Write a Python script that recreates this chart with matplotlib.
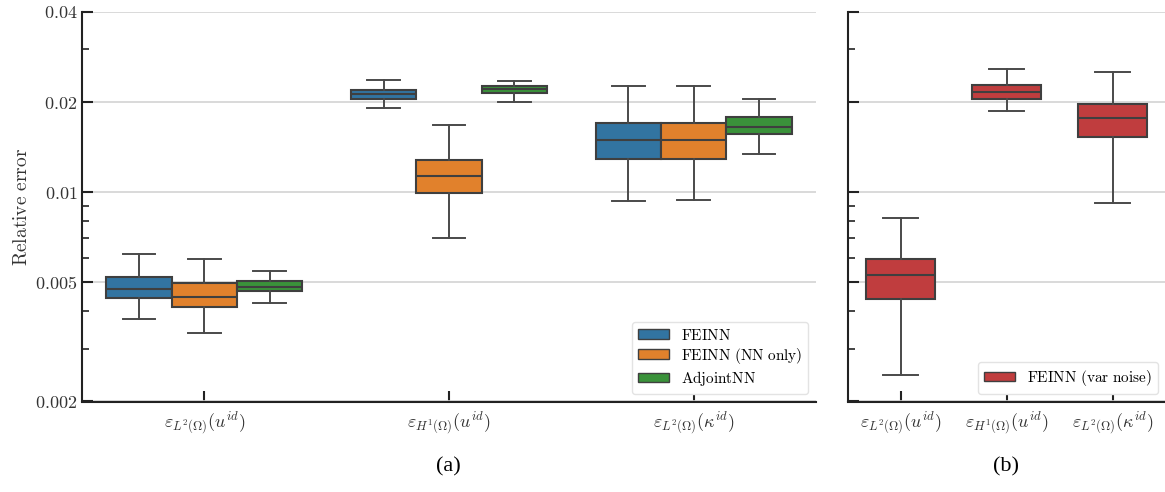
import numpy as np
import matplotlib.pyplot as plt
from matplotlib.patches import Patch

plt.rcParams['mathtext.fontset'] = 'cm'
plt.rcParams['font.family'] = ['DejaVu Serif']

# --- datos (estadisticos de cada caja: whislo, q1, med, q3, whishi) ---
categorias = [r'$\varepsilon_{L^2(\Omega)}(u^{id})$',
              r'$\varepsilon_{H^1(\Omega)}(u^{id})$',
              r'$\varepsilon_{L^2(\Omega)}(\kappa^{id})$']

feinn = [[0.00376, 0.00444, 0.00474, 0.00521, 0.00621],
         [0.0191, 0.0204, 0.0213, 0.0219, 0.0237],
         [0.00935, 0.0129, 0.01485, 0.0170, 0.0225]]
feinn_nn = [[0.00338, 0.00413, 0.00445, 0.00496, 0.00598],
            [0.00702, 0.00993, 0.01134, 0.0128, 0.0167],
            [0.0094, 0.0129, 0.0149, 0.0170, 0.0225]]
adjoint = [[0.00425, 0.00469, 0.00481, 0.00504, 0.00545],
           [0.0200, 0.0214, 0.0220, 0.0226, 0.0235],
           [0.01343, 0.01567, 0.0165, 0.0178, 0.0205]]
feinn_var = [[0.00246, 0.00438, 0.00529, 0.00598, 0.0082],
             [0.0186, 0.0205, 0.02155, 0.0228, 0.0258],
             [0.00918, 0.01527, 0.01764, 0.0197, 0.0252]]

series = ['FEINN', 'FEINN (NN only)', 'AdjointNN']
colores = ['#3274a1', '#e1812c', '#3a923a']
color_var = '#c03d3e'
gris = '#3f3f3f'

yticks = [0.002, 0.005, 0.01, 0.02, 0.04]
ytick_labels = ['$0.002$', '$0.005$', '$0.01$', '$0.02$', '$0.04$']


def stats(lista):
    return [dict(whislo=s[0], q1=s[1], med=s[2], q3=s[3], whishi=s[4], fliers=[])
            for s in lista]


def dibujar(ax, datos, pos, ancho, color):
    ax.bxp(stats(datos), positions=pos, widths=ancho, patch_artist=True,
           showfliers=False, capwidths=ancho / 2,
           boxprops=dict(facecolor=color, edgecolor=gris, linewidth=1.5),
           medianprops=dict(color=gris, linewidth=1.5),
           whiskerprops=dict(color='#4a4a4a', linewidth=1.4),
           capprops=dict(color='#4a4a4a', linewidth=1.4))


def estilo(ax):
    ax.set_yscale('log')
    ax.set_ylim(0.002, 0.04)
    ax.set_xlim(-0.5, 2.5)
    ax.set_yticks(yticks)
    ax.set_yticks([0.003, 0.004, 0.006, 0.007, 0.008, 0.009, 0.03], minor=True)
    ax.yaxis.grid(True, which='major', color='#d3d3d3', linewidth=1.2)
    ax.set_axisbelow(True)
    ax.spines['top'].set_visible(False)
    ax.spines['right'].set_visible(False)
    for s in ['left', 'bottom']:
        ax.spines[s].set_linewidth(1.5)
        ax.spines[s].set_color('#222222')
    ax.tick_params(axis='both', which='major', direction='in', length=8, width=1.5,
                   color='#222222', labelsize=13, labelcolor='#333333')
    ax.tick_params(axis='y', which='minor', direction='in', length=5, width=1.2,
                   color='#222222')
    ax.set_xticks(range(3))
    ax.set_xticklabels(categorias, fontsize=13)
    ax.tick_params(axis='x', pad=6)


fig = plt.figure(figsize=(11.65, 4.92), dpi=100)
ax1 = fig.add_axes([82 / 1165, 1 - 401.5 / 492, 734 / 1165, 390 / 492])
ax2 = fig.add_axes([847.5 / 1165, 1 - 401.5 / 492, 318 / 1165, 390 / 492])

# --- panel (a) ---
ancho = 0.8 / 3
x = np.arange(3)
for i, datos in enumerate([feinn, feinn_nn, adjoint]):
    dibujar(ax1, datos, x + (i - 1) * ancho, ancho, colores[i])
estilo(ax1)
ax1.set_yticklabels(ytick_labels)
ax1.set_yticklabels([], minor=True)
ax1.set_ylabel(r'$\mathrm{Relative\ error}$', fontsize=14, labelpad=3,
               color='#333333')

handles = [Patch(facecolor=c, edgecolor=gris, linewidth=1) for c in colores]
labels = [r'$\mathrm{FEINN}$', r'$\mathrm{FEINN\ (NN\ only)}$', r'$\mathrm{AdjointNN}$']
leg_kw = dict(loc='lower right', fontsize=11, frameon=True, edgecolor='#e3e3e3',
              framealpha=1, borderaxespad=0.5, labelspacing=0.2,
              handleheight=0.6, borderpad=0.4)
ax1.legend(handles, labels, **leg_kw)

# --- panel (b) ---
dibujar(ax2, feinn_var, x, 0.65, color_var)
estilo(ax2)
ax2.set_yticklabels([])
ax2.set_yticklabels([], minor=True)
ax2.legend([Patch(facecolor=color_var, edgecolor=gris, linewidth=1)],
           [r'$\mathrm{FEINN\ (var\ noise)}$'], **leg_kw)

fig.text(448 / 1165, 1 - 467 / 492, '(a)', ha='center', va='center',
         fontsize=16, family='Liberation Serif')
fig.text(1006 / 1165, 1 - 467 / 492, '(b)', ha='center', va='center',
         fontsize=16, family='Liberation Serif')

fig.savefig('out.png', dpi=100)
